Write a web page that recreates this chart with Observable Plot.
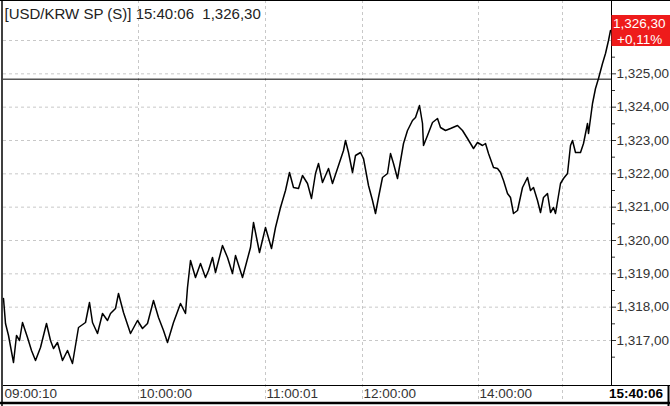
<!DOCTYPE html>
<html><head><meta charset="utf-8">
<script src="https://cdn.jsdelivr.net/npm/d3@7"></script>
<script src="https://cdn.jsdelivr.net/npm/@observablehq/plot@0.6"></script>
<style>html,body{margin:0;padding:0;background:#fff;overflow:hidden}</style>
</head><body><div id="chart"></div>
<script>
// tick sequence number (trade count order) and price
const tickSeq = [0,2,5,10,13,16,19,24,28,32,37,43,47,50,54,59,64,69,72,75,82,86,89,94,99,104,107,112,115,120,127,134,139,144,150,155,160,164,170,177,182,184,187,192,197,202,205,209,212,219,224,229,232,239,243,247,250,256,262,268,272,277,282,286,290,295,299,304,308,312,315,319,325,329,334,340,342,345,349,352,357,360,365,369,372,375,379,384,387,390,394,400,404,409,412,416,419,420,424,429,434,437,442,447,454,459,464,470,474,479,482,485,490,494,497,500,504,507,510,514,519,524,527,530,534,537,540,544,547,550,552,557,560,564,567,569,572,577,580,584,585,589,592,595,599,602,605,607];
const price = [1318.26,1317.51,1317.15,1316.34,1317.15,1317.00,1317.54,1317.09,1316.70,1316.40,1316.79,1317.51,1317.00,1316.76,1316.94,1316.40,1316.70,1316.31,1316.85,1317.39,1317.54,1318.14,1317.54,1317.21,1317.81,1317.60,1317.81,1317.96,1318.41,1317.84,1317.21,1317.60,1317.36,1317.51,1318.20,1317.69,1317.30,1316.94,1317.54,1318.11,1317.81,1318.59,1319.40,1318.89,1319.31,1318.89,1319.10,1319.49,1319.04,1319.85,1319.49,1319.01,1319.55,1318.89,1319.34,1319.79,1320.54,1319.64,1320.39,1319.76,1320.39,1320.99,1321.50,1322.04,1321.59,1321.56,1321.95,1321.71,1321.26,1322.01,1322.31,1321.74,1322.16,1321.71,1322.16,1322.70,1323.00,1322.64,1322.04,1322.55,1322.64,1322.46,1321.65,1321.20,1320.81,1321.29,1321.89,1322.01,1322.61,1322.31,1321.86,1322.91,1323.30,1323.60,1323.69,1324.05,1323.51,1322.85,1323.15,1323.54,1323.66,1323.39,1323.30,1323.36,1323.45,1323.30,1323.06,1322.76,1322.94,1322.85,1322.91,1322.61,1322.19,1322.16,1322.04,1321.80,1321.41,1321.29,1320.81,1320.90,1321.59,1321.89,1321.50,1321.59,1321.20,1320.84,1321.29,1321.41,1320.84,1320.99,1320.81,1321.71,1321.86,1322.01,1322.85,1323.00,1322.64,1322.64,1322.91,1323.51,1323.21,1324.11,1324.56,1324.86,1325.31,1325.61,1326.00,1326.30];
const timeLabelSeq = [0,135,262,359,475];
const timeLabels = ["09:00:10","10:00:00","11:00:01","12:00:00","14:00:00"];
const timeGridSeq = [135,262,359,475,559];
const lastTime = "15:40:06";
const lastPrice = 1326.30;
const changeText = "+0,11%";
const prevClose = 1324.84;
const yTicks = [1317,1318,1319,1320,1321,1322,1323,1324,1325,1326];
const yMinor = [1316.5,1317.5,1318.5,1319.5,1320.5,1321.5,1322.5,1323.5,1324.5,1325.5,1326.5];
const title = "[USD/KRW SP (S)] 15:40:06  1,326,30";
const seqMax = 608;

const data = tickSeq.map((s, i) => ({s, p: price[i]}));
const fmt = v => d3.format(",.2f")(v).replace(".", ",");
// the last-price badge covers the tick label right next to it
const yLabel = v => Math.abs(v - lastPrice) < 0.5 ? "" : fmt(v);
const W = 670, H = 406, mL = 3, mR = 59, mT = 0, mB = 21;
const font = "'Liberation Sans', Arial, sans-serif";

const plot = Plot.plot({
  width: W, height: H, marginLeft: mL, marginRight: mR, marginTop: mT, marginBottom: mB,
  x: {domain: [0, seqMax], axis: null, label: null},
  y: {domain: [1315.65, 1327.2], axis: null, label: null},
  style: {fontFamily: font, fontSize: "13.5px", color: "#333", background: "#fff"},
  marks: [
    Plot.ruleY(yTicks, {stroke: "#c8c8c8", strokeDasharray: "3,3"}),
    Plot.ruleX(timeGridSeq, {stroke: "#c8c8c8", strokeDasharray: "3,3", insetBottom: -18}),
    Plot.ruleY([prevClose], {stroke: "#000", strokeWidth: 1}),
    Plot.line(data, {x: "s", y: "p", stroke: "#000", strokeWidth: 1.5}),
    Plot.ruleX([seqMax], {stroke: "#000"}),
    Plot.axisY({anchor: "right", label: null, ticks: yTicks, tickSize: 4, tickPadding: 1, tickFormat: yLabel, fontSize: 13.5, stroke: "#333", fill: "#333"}),
    Plot.axisY({anchor: "right", label: null, ticks: yMinor, tickSize: 3, tickFormat: () => "", stroke: "#333"}),
    Plot.axisX({anchor: "bottom", label: null, ticks: timeLabelSeq, tickSize: 0, tickPadding: 3, textAnchor: "start", dx: 1, fontSize: 13.5, fill: "#333",
      tickFormat: d => timeLabels[timeLabelSeq.indexOf(d)]}),
    Plot.text([title], {frameAnchor: "top-left", dx: 1, dy: 14, lineAnchor: "middle", textAnchor: "start", fontSize: 15, fill: "#222"})
  ]
});

const svg = d3.select(plot);
const yl = plot.scale("y").apply(lastPrice);
// x axis line extended across the label column
svg.append("line").attr("x1", mL).attr("x2", W).attr("y1", H - mB + 0.5).attr("y2", H - mB + 0.5).attr("stroke", "#000");
// last-price badge
svg.append("rect").attr("x", W - mR + 0.5).attr("y", yl - 15).attr("width", mR).attr("height", 31).attr("fill", "#ee1b1b");
svg.append("text").attr("x", W - mR + 2).attr("y", yl - 7).attr("dy", "0.35em").attr("text-anchor", "start").attr("fill", "#fff").attr("font-size", 13.5).text(fmt(lastPrice));
svg.append("text").attr("x", W - mR + 6).attr("y", yl + 9).attr("dy", "0.35em").attr("text-anchor", "start").attr("fill", "#fff").attr("font-size", 13.5).text(changeText);
// last time label
svg.append("text").attr("x", W - mR - 2).attr("y", H - mB + 8).attr("dy", "0.35em").attr("text-anchor", "start").attr("fill", "#000").attr("font-weight", "bold").attr("font-size", 13.5).text(lastTime);
// outer frame
svg.append("line").attr("x1", 2).attr("x2", 2).attr("y1", 0).attr("y2", H).attr("stroke", "#000").attr("stroke-width", 1.5);
svg.append("line").attr("x1", 0).attr("x2", W).attr("y1", 403).attr("y2", 403).attr("stroke", "#000").attr("stroke-width", 2.5);
svg.append("line").attr("x1", 668.5).attr("x2", 668.5).attr("y1", H - mB).attr("y2", H).attr("stroke", "#000").attr("stroke-width", 2);
svg.append("line").attr("x1", 0).attr("x2", W).attr("y1", 0.5).attr("y2", 0.5).attr("stroke", "#000").attr("stroke-width", 1);

document.getElementById("chart").appendChild(plot);
</script>
</body></html>
